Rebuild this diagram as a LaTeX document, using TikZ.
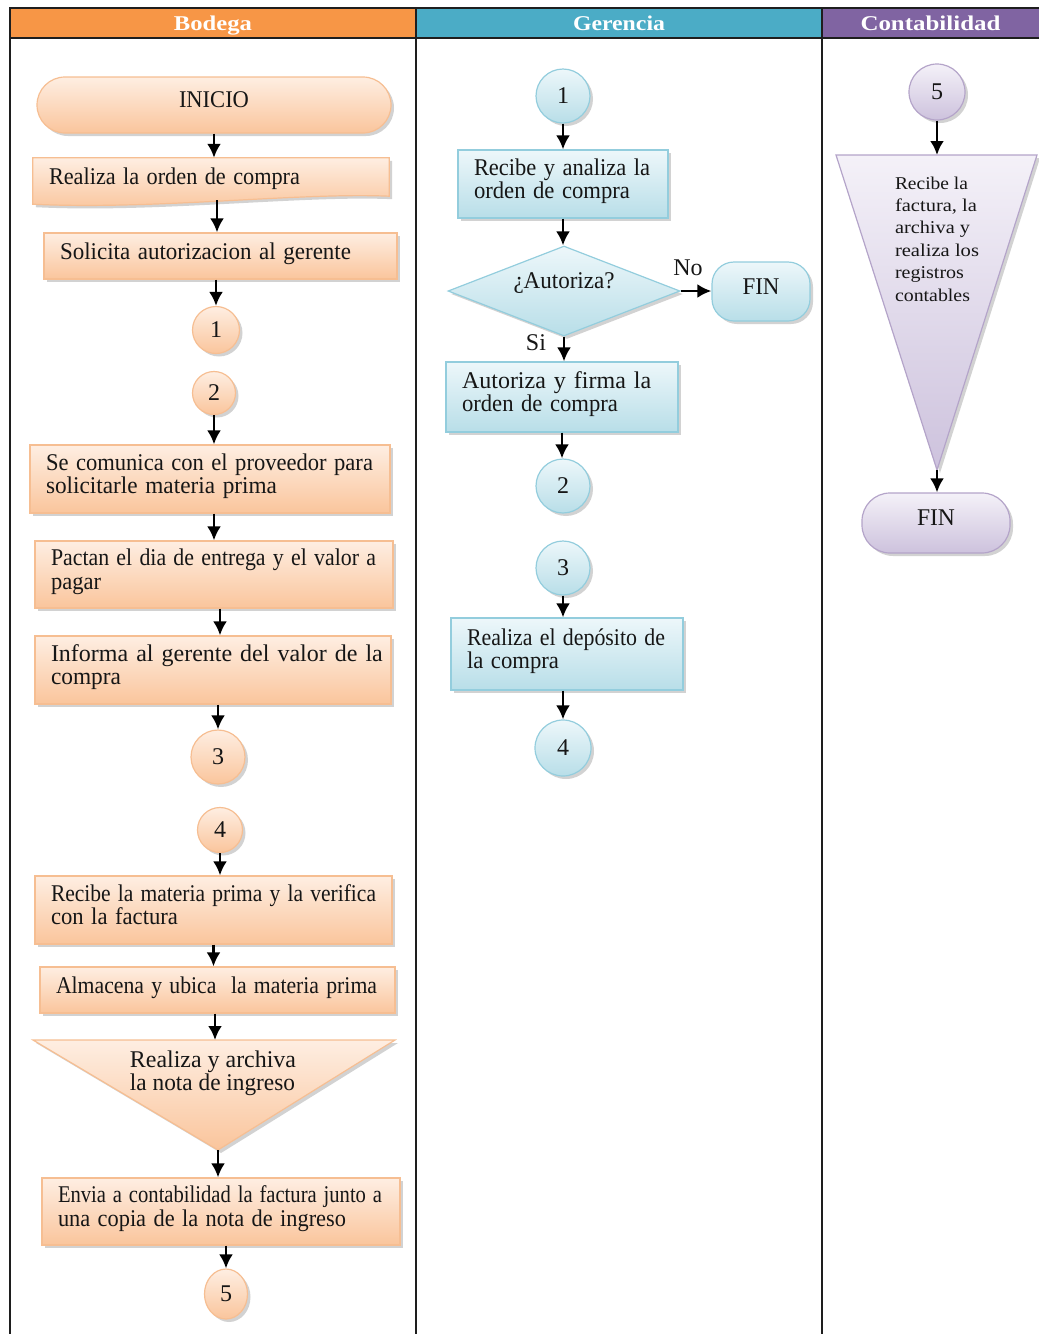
\documentclass[tikz,border=0pt]{standalone}
\usepackage{fontspec}
\setmainfont{Liberation Serif}
\usepackage{graphicx}
\usetikzlibrary{shapes.geometric,shadows,arrows.meta,backgrounds}

% a line of text set to an exact width (glyphs scaled horizontally)
\newcommand{\fitw}[2]{\resizebox{#1pt}{\height}{#2}}
% a line of text justified to an exact width (spaces stretched)
\newcommand{\spreadw}[2]{\makebox[#1pt][s]{#2}}
% vertical connectors: at the x of the source, or at the x of the target
\newcommand{\flowA}[2]{\draw[conn] (#1.south) -- (#1.south |- #2.north);}
\newcommand{\flowB}[2]{\draw[conn] (#2.north |- #1.south) -- (#2.north);}

\definecolor{bodH}{HTML}{F79646}
\definecolor{gerH}{HTML}{4BACC6}
\definecolor{conH}{HTML}{8064A2}
\definecolor{oTop}{HTML}{FEEEE2}
\definecolor{oBot}{HTML}{FAC59C}
\definecolor{oLine}{HTML}{F6BE92}
\definecolor{bTop}{HTML}{EDF7FA}
\definecolor{bBot}{HTML}{B8DEE8}
\definecolor{bLine}{HTML}{93CDDD}
\definecolor{pTop}{HTML}{F4F1F8}
\definecolor{pBot}{HTML}{CDC2DD}
\definecolor{pLine}{HTML}{B4A4C9}
\definecolor{gridc}{HTML}{1E1E1E}
\definecolor{ink}{HTML}{161616}

\tikzset{
  txt/.style={font=\fontsize{24}{23.5}\selectfont, text=ink},
  withshadow/.style={drop shadow={shadow xshift=3pt,shadow yshift=-3pt,opacity=0.25,fill=black!70}},
  ofill/.style={withshadow, top color=oTop, bottom color=oBot, draw=oLine, line width=1.2pt},
  bfill/.style={withshadow, top color=bTop, bottom color=bBot, draw=bLine, line width=1.2pt},
  pfill/.style={withshadow, top color=pTop, bottom color=pBot, draw=pLine, line width=1.2pt},
  box/.style={rectangle, txt, inner xsep=16pt, inner ysep=0pt, align=left, text depth=10pt},
  boxtwo/.style={rectangle, txt, inner xsep=16pt, inner ysep=0pt, align=left, text depth=34.5pt},
  term/.style={rectangle, txt, inner sep=0pt, text depth=10pt},
  circ/.style={circle, txt, inner sep=0pt},
  oval/.style={ellipse, txt, inner sep=0pt},
  dia/.style={diamond, txt, inner sep=0pt, aspect=2.58, text depth=20pt},
  lbl/.style={txt, inner sep=0pt},
  conn/.style={line width=2.8pt, -{Latex[length=14pt,width=14pt]}},
  grid/.style={line width=2pt, draw=gridc},
  hdr/.style={rectangle, inner sep=0pt, minimum height=30pt, text=white,
              text height=15pt, text depth=1pt,
              font=\bfseries\fontsize{21}{21}\selectfont},
}

\begin{document}
\begin{tikzpicture}[x=1pt,y=-1pt]
\useasboundingbox (0,0) rectangle (1039,1334);

% ---------- swimlane headers and grid ----------
\node[hdr, fill=bodH, minimum width=406pt] (hb) at (213,23) {\fitw{78}{Bodega}};
\node[hdr, fill=gerH, minimum width=406pt] (hg) at (619,23) {\fitw{92}{Gerencia}};
\node[hdr, fill=conH, minimum width=217pt] (hc) at (930.5,23) {\fitw{140}{Contabilidad}};
\draw[grid] (10,1334) -- (10,8) -- (1039,8);
\draw[grid] (10,38) -- (1039,38);
\draw[grid] (416,8) -- (416,1334);
\draw[grid] (822,8) -- (822,1334);

% ---------- Bodega ----------
\node[term, ofill, minimum width=354pt, minimum height=56pt, rounded corners=28pt] (ini) at (214,105) {\fitw{70}{INICIO}};

\node[box, minimum width=356pt, minimum height=46pt, text width=324pt] (rc) at (211,181) {\fitw{251}{Realiza la orden de compra}};
\begin{pgfonlayer}{background}
  \shade[ofill] (rc.north west) -- (rc.north east) -- ([yshift=8pt]rc.south east)
    .. controls ([xshift=-90pt,yshift=12pt]rc.south east) and ([xshift=120pt,yshift=-6pt]rc.south west) .. (rc.south west) -- cycle;
\end{pgfonlayer}

\node[box, ofill, minimum width=353pt, minimum height=46pt, text width=321pt] (sol) at (220.5,256) {\fitw{291}{Solicita autorizacion al gerente}};
\node[circ, ofill, minimum size=47pt] (c1) at (216,330) {1};
\node[circ, ofill, minimum size=43pt] (c2) at (214,393) {2};
\node[boxtwo, ofill, minimum width=360pt, minimum height=68pt, text width=328pt] (com) at (210,479)
  {\fitw{327}{Se comunica con el proveedor para}\\\fitw{231}{solicitarle materia prima}};
\node[boxtwo, ofill, minimum width=358pt, minimum height=67pt, text width=326pt] (pac) at (214,574.5)
  {\fitw{325}{Pactan el dia de entrega y el valor a}\\\fitw{50}{pagar}};
\node[boxtwo, ofill, minimum width=356pt, minimum height=68pt, text width=324pt] (inf) at (213,670)
  {\spreadw{324}{Informa al gerente del valor de la}\\\fitw{70}{compra}};
\node[circ, ofill, minimum size=54pt] (c3) at (218,757) {3};
\node[circ, ofill, minimum size=45pt] (c4) at (220,830) {4};
\node[boxtwo, ofill, minimum width=357pt, minimum height=68pt, text width=325pt] (rmp) at (213.5,910)
  {\fitw{325}{Recibe la materia prima y la verifica}\\\fitw{127}{con la factura}};
\node[box, ofill, minimum width=355pt, minimum height=46pt, text width=323pt] (alm) at (217.5,990)
  {\fitw{321}{Almacena y ubica\ \ la materia prima}};

\coordinate (t1top) at (215,1040);
\coordinate (t1apex) at (218,1150);
\shade[ofill] (33,1040) -- (395,1040) -- (t1apex) -- cycle;
\node[lbl, align=left] (ttx) at (213,1073) {\fitw{166}{Realiza y archiva}\\\fitw{165}{la nota de ingreso}};

\node[boxtwo, ofill, minimum width=358pt, minimum height=67pt, text width=326pt] (env) at (221,1211.5)
  {\fitw{324}{Envia a contabilidad la factura junto a}\\\fitw{288}{una copia de la nota de ingreso}};
\node[oval, ofill, minimum width=43pt, minimum height=50pt] (c5) at (226,1294) {5};

\flowA{ini}{rc}
\draw[conn] ([xshift=6pt,yshift=4pt]rc.south) -- ([xshift=6pt]rc.south |- sol.north);
\flowB{sol}{c1}
\flowA{c2}{com}
\flowB{com}{pac}
\draw[conn] ([xshift=6pt]pac.south) -- ([xshift=6pt]pac.south |- inf.north);
\flowB{inf}{c3}
\flowA{c4}{rmp}
\flowA{rmp}{alm}
\draw[conn] (t1top |- alm.south) -- (t1top);
\draw[conn] (t1apex) -- (t1apex |- env.north);
\flowB{env}{c5}

% ---------- Gerencia ----------
\node[circ, bfill, minimum size=54pt] (g1) at (563,96) {1};
\node[boxtwo, bfill, minimum width=210pt, minimum height=68pt, text width=178pt] (ran) at (563,184)
  {\fitw{176}{Recibe y analiza la}\\\fitw{156}{orden de compra}};
\node[dia, bfill, minimum width=232pt, minimum height=90pt] (dec) at (564,291) {\fitw{101}{¿Autoriza?}};
\node[term, bfill, minimum width=98pt, minimum height=59pt, rounded corners=22pt] (fin1) at (761,291.5) {\fitw{37}{FIN}};
\node[lbl] (lno) at (688,268) {No};
\node[lbl] (lsi) at (536,343) {Si};
\node[boxtwo, bfill, minimum width=232pt, minimum height=70pt, text width=200pt] (afi) at (562,397)
  {\spreadw{198}{Autoriza y firma la}\\\fitw{156}{orden de compra}};
\node[circ, bfill, minimum size=54pt] (g2) at (563,486) {2};
\node[circ, bfill, minimum size=54pt] (g3) at (563,568) {3};
\node[boxtwo, bfill, minimum width=232pt, minimum height=72pt, text width=200pt] (dep) at (567,654)
  {\fitw{198}{Realiza el depósito de}\\\fitw{92}{la compra}};
\node[circ, bfill, minimum size=56pt] (g4) at (563,748) {4};

\flowA{g1}{ran}
\flowA{ran}{dec}
\flowA{dec}{afi}
\draw[conn] (dec.east) -- (dec.east -| fin1.west);
\flowA{afi}{g2}
\flowA{g3}{dep}
\draw[conn] (g4.north |- dep.south) -- (g4.north);

% ---------- Contabilidad ----------
\node[circ, pfill, minimum size=56pt] (k5) at (937,92) {5};
\coordinate (k5top) at (937,155);
\coordinate (k5apex) at (937,470);
\shade[pfill] (836,155) -- (1037,155) -- (k5apex) -- cycle;
\node[inner sep=0pt, align=left, text=ink, font=\fontsize{18}{22.4}\selectfont] (ktx) at (937,239)
  {\fitw{73}{Recibe la}\\\fitw{82}{factura, la}\\\fitw{75}{archiva y}\\\fitw{84}{realiza los}\\\fitw{69}{registros}\\\fitw{75}{contables}};
\node[term, pfill, minimum width=148pt, minimum height=60pt, rounded corners=28pt] (fin2) at (936,523) {\fitw{38}{FIN}};

\draw[conn] (k5.south) -- (k5top);
\draw[conn] (k5apex) -- (k5apex |- fin2.north);
\end{tikzpicture}
\end{document}
